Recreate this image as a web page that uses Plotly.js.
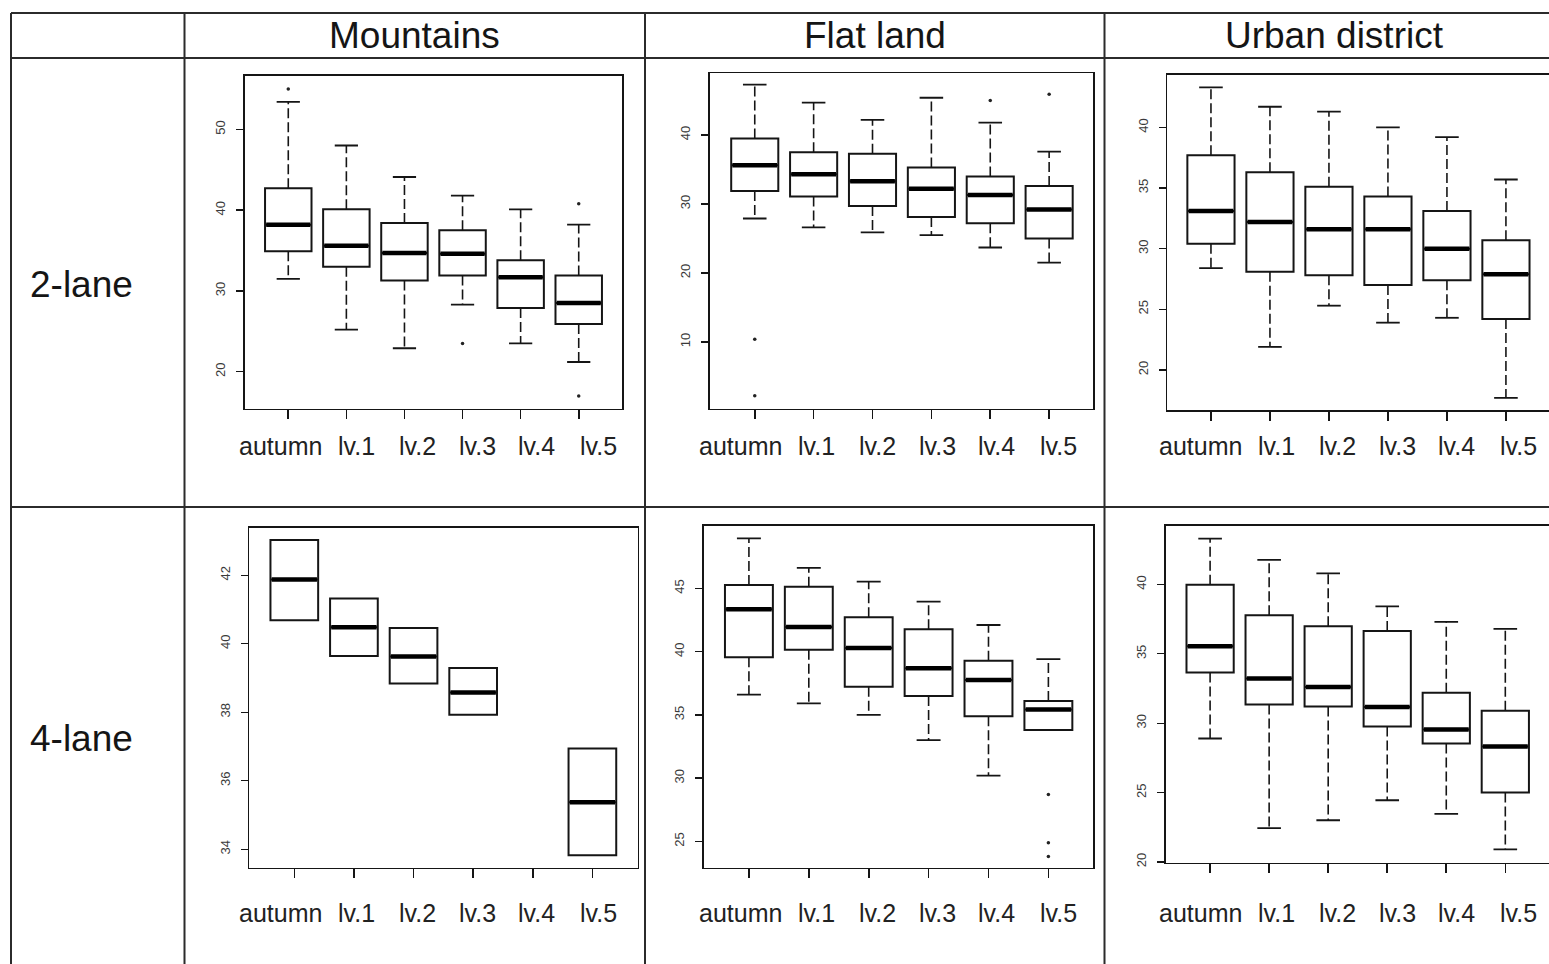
<!DOCTYPE html>
<html>
<head>
<meta charset="utf-8">
<script src="https://cdn.plot.ly/plotly-3.0.1.min.js"></script>
<style>
  html, body { margin: 0; padding: 0; background: #ffffff; }
  #chart { width: 1549px; height: 964px; }
</style>
</head>
<body>
<div id="chart"></div>
<script>
// ---------- categories / labels ----------
const categories = ['autumn', 'lv.1', 'lv.2', 'lv.3', 'lv.4', 'lv.5'];
const terrains = ['Mountains', 'Flat land', 'Urban district'];
const roadTypes = ['2-lane', '4-lane'];

// ---------- Mountains, 2-lane ----------
const m2_lo  = [31.5, 25.2, 22.9, 28.3, 23.5, 21.2];
const m2_q1  = [34.9, 33.0, 31.3, 31.9, 27.9, 25.9];
const m2_med = [38.2, 35.6, 34.7, 34.6, 31.7, 28.5];
const m2_q3  = [42.7, 40.1, 38.4, 37.5, 33.8, 31.9];
const m2_hi  = [53.4, 48.0, 44.1, 41.8, 40.1, 38.2];
const m2_outCat = ['autumn', 'lv.3', 'lv.5', 'lv.5'];
const m2_outVal = [55.0, 23.5, 40.8, 17.0];

// ---------- Flat land, 2-lane ----------
const f2_lo  = [27.9, 26.6, 25.9, 25.5, 23.7, 21.5];
const f2_q1  = [31.9, 31.1, 29.7, 28.1, 27.2, 25.0];
const f2_med = [35.6, 34.3, 33.3, 32.2, 31.3, 29.2];
const f2_q3  = [39.5, 37.5, 37.3, 35.3, 34.0, 32.6];
const f2_hi  = [47.3, 44.7, 42.2, 45.4, 41.8, 37.6];
const f2_outCat = ['autumn', 'autumn', 'lv.4', 'lv.5'];
const f2_outVal = [10.4, 2.2, 45.0, 45.9];

// ---------- Urban district, 2-lane ----------
const u2_lo  = [28.4, 21.9, 25.3, 23.9, 24.3, 17.7];
const u2_q1  = [30.4, 28.1, 27.8, 27.0, 27.4, 24.2];
const u2_med = [33.1, 32.2, 31.6, 31.6, 30.0, 27.9];
const u2_q3  = [37.7, 36.3, 35.1, 34.3, 33.1, 30.7];
const u2_hi  = [43.3, 41.7, 41.3, 40.0, 39.2, 35.7];
const u2_outCat = [];
const u2_outVal = [];

// ---------- Mountains, 4-lane (no whiskers, lv.4 empty) ----------
const m4_lo  = [40.69, 39.64, 38.84, 37.93, null, 33.82];
const m4_q1  = [40.69, 39.64, 38.84, 37.93, null, 33.82];
const m4_med = [41.88, 40.48, 39.63, 38.58, null, 35.37];
const m4_q3  = [43.03, 41.32, 40.46, 39.29, null, 36.94];
const m4_hi  = [43.03, 41.32, 40.46, 39.29, null, 36.94];
const m4_outCat = [];
const m4_outVal = [];

// ---------- Flat land, 4-lane ----------
const f4_lo  = [36.6, 35.9, 35.0, 33.0, 30.2, 33.8];
const f4_q1  = [39.55, 40.15, 37.23, 36.49, 34.88, 33.8];
const f4_med = [43.34, 41.94, 40.28, 38.68, 37.75, 35.43];
const f4_q3  = [45.26, 45.13, 42.71, 41.76, 39.28, 36.09];
const f4_hi  = [48.95, 46.61, 45.53, 43.95, 42.1, 39.41];
const f4_outCat = ['lv.5', 'lv.5', 'lv.5'];
const f4_outVal = [28.7, 24.9, 23.8];

// ---------- Urban district, 4-lane ----------
const u4_lo  = [28.9, 22.44, 23.01, 24.45, 23.47, 20.91];
const u4_q1  = [33.66, 31.34, 31.2, 29.76, 28.54, 25.0];
const u4_med = [35.55, 33.23, 32.61, 31.17, 29.55, 28.33];
const u4_q3  = [39.98, 37.78, 36.99, 36.65, 32.2, 30.89];
const u4_hi  = [43.3, 41.77, 40.79, 38.42, 37.3, 36.79];
const u4_outCat = [];
const u4_outVal = [];

// ---------- y-axis ticks per panel ----------
const m2_yticks = [20, 30, 40, 50];
const f2_yticks = [10, 20, 30, 40];
const u2_yticks = [20, 25, 30, 35, 40];
const m4_yticks = [34, 36, 38, 40, 42];
const f4_yticks = [25, 30, 35, 40, 45];
const u4_yticks = [20, 25, 30, 35, 40];

// ---------- layout (pixels) ----------
const W = 1549, H = 964;
const px = v => v / W;
const py = v => 1 - v / H;
const INK = '#151515';
const FONT = 'Liberation Sans, Arial, sans-serif';

const panels = [
  {lo:m2_lo,q1:m2_q1,med:m2_med,q3:m2_q3,hi:m2_hi,oc:m2_outCat,ov:m2_outVal,yt:m2_yticks,
   xpx:[245,622], ypx:[75.7,408.7], yr:[15.42,56.64], xr:[-0.745,5.745], open:false},
  {lo:f2_lo,q1:f2_q1,med:f2_med,q3:f2_q3,hi:f2_hi,oc:f2_outCat,ov:f2_outVal,yt:f2_yticks,
   xpx:[710,1093.3], ypx:[73.3,408.7], yr:[0.34,48.94], xr:[-0.76,5.75], open:false},
  {lo:u2_lo,q1:u2_q1,med:u2_med,q3:u2_q3,hi:u2_hi,oc:u2_outCat,ov:u2_outVal,yt:u2_yticks,
   xpx:[1167.3,1549], ypx:[74.7,410], yr:[16.70,44.34], xr:[-0.74,5.73], open:true},
  {lo:m4_lo,q1:m4_q1,med:m4_med,q3:m4_q3,hi:m4_hi,oc:m4_outCat,ov:m4_outVal,yt:m4_yticks,
   xpx:[249.3,637.7], ypx:[527.7,867.7], yr:[33.46,43.39], xr:[-0.755,5.76], open:false},
  {lo:f4_lo,q1:f4_q1,med:f4_med,q3:f4_q3,hi:f4_hi,oc:f4_outCat,ov:f4_outVal,yt:f4_yticks,
   xpx:[704,1093.3], ypx:[525.7,867.7], yr:[22.92,49.95], xr:[-0.75,5.75], open:false},
  {lo:u4_lo,q1:u4_q1,med:u4_med,q3:u4_q3,hi:u4_hi,oc:u4_outCat,ov:u4_outVal,yt:u4_yticks,
   xpx:[1166,1549], ypx:[525.7,862.7], yr:[19.95,44.23], xr:[-0.747,5.74], open:true}
];

const BOXHALF = 0.4, STAPLEHALF = 0.2;
const traces = [];
const layout = {
  width: W, height: H,
  margin: {l: 0, r: 0, t: 0, b: 0},
  paper_bgcolor: '#ffffff', plot_bgcolor: '#ffffff',
  showlegend: false,
  hovermode: false,
  font: {family: FONT, color: INK},
  shapes: [], annotations: []
};

panels.forEach((p, k) => {
  const n = k + 1;
  const xa = n === 1 ? 'x' : 'x' + n;
  const ya = n === 1 ? 'y' : 'y' + n;
  const idx = [];
  categories.forEach((c, i) => { if (p.med[i] !== null) idx.push(i); });

  // boxes
  traces.push({
    type: 'box', xaxis: xa, yaxis: ya,
    x: idx,
    q1: idx.map(i => p.q1[i]),
    median: idx.map(i => p.med[i]),
    q3: idx.map(i => p.q3[i]),
    lowerfence: idx.map(i => p.q1[i]),
    upperfence: idx.map(i => p.q3[i]),
    width: 2 * BOXHALF, whiskerwidth: 0,
    line: {color: INK, width: 2},
    fillcolor: 'rgba(255,255,255,0)',
    boxpoints: false, hoverinfo: 'skip'
  });

  // dashed whiskers
  const wx = [], wy = [];
  idx.forEach(i => {
    if (p.hi[i] > p.q3[i]) { wx.push(i, i, null); wy.push(p.q3[i], p.hi[i], null); }
    if (p.lo[i] < p.q1[i]) { wx.push(i, i, null); wy.push(p.q1[i], p.lo[i], null); }
  });
  traces.push({type: 'scatter', mode: 'lines', xaxis: xa, yaxis: ya, x: wx, y: wy,
    line: {color: INK, width: 1.6, dash: '10px,4px'}, hoverinfo: 'skip'});

  // staples
  const sx = [], sy = [];
  idx.forEach(i => {
    if (p.hi[i] > p.q3[i]) { sx.push(i - STAPLEHALF, i + STAPLEHALF, null); sy.push(p.hi[i], p.hi[i], null); }
    if (p.lo[i] < p.q1[i]) { sx.push(i - STAPLEHALF, i + STAPLEHALF, null); sy.push(p.lo[i], p.lo[i], null); }
  });
  traces.push({type: 'scatter', mode: 'lines', xaxis: xa, yaxis: ya, x: sx, y: sy,
    line: {color: INK, width: 1.8}, hoverinfo: 'skip'});

  // thick medians
  const mx = [], my = [];
  idx.forEach(i => { mx.push(i - BOXHALF + 0.02, i + BOXHALF - 0.02, null); my.push(p.med[i], p.med[i], null); });
  traces.push({type: 'scatter', mode: 'lines', xaxis: xa, yaxis: ya, x: mx, y: my,
    line: {color: '#000', width: 4.5}, hoverinfo: 'skip'});

  // outliers
  if (p.oc.length) {
    traces.push({type: 'scatter', mode: 'markers', xaxis: xa, yaxis: ya,
      x: p.oc.map(c => categories.indexOf(c)), y: p.ov,
      marker: {color: '#222', size: 3.5, symbol: 'circle'}, hoverinfo: 'skip'});
  }

  const xkey = n === 1 ? 'xaxis' : 'xaxis' + n;
  const ykey = n === 1 ? 'yaxis' : 'yaxis' + n;
  layout[xkey] = {
    anchor: ya, domain: [px(p.xpx[0]), px(p.xpx[1])],
    type: 'linear', range: p.xr, fixedrange: true,
    showgrid: false, zeroline: false,
    showline: true, linecolor: INK, linewidth: 1.6, mirror: true,
    tickmode: 'array', tickvals: categories.map((c, i) => i),
    ticks: 'outside', ticklen: 9, tickwidth: 1.6, tickcolor: INK,
    showticklabels: false
  };
  layout[ykey] = {
    anchor: xa, domain: [py(p.ypx[1]), py(p.ypx[0])],
    type: 'linear', range: p.yr, fixedrange: true,
    showgrid: false, zeroline: false,
    showline: true, linecolor: INK, linewidth: 1.6, mirror: !p.open,
    tickmode: 'array', tickvals: p.yt,
    ticks: 'outside', ticklen: 7, tickwidth: 1.3, tickcolor: INK,
    tickangle: -90, ticklabelstandoff: 6,
    tickfont: {family: FONT, size: 13, color: '#3a3a3a'}
  };
});

// ---------- table grid ----------
const gridColor = '#2b2b2b';
const hLines = [13, 58, 507];
const vLines = [11, 184.5, 645, 1104.5];
hLines.forEach(y => layout.shapes.push({type: 'line', xref: 'paper', yref: 'paper',
  x0: px(11), x1: 1, y0: py(y), y1: py(y), line: {color: gridColor, width: 2}}));
vLines.forEach(x => layout.shapes.push({type: 'line', xref: 'paper', yref: 'paper',
  x0: px(x), x1: px(x), y0: py(13), y1: 0, line: {color: gridColor, width: 2}}));

// ---------- header and row labels ----------
const headerX = [414.75, 874.75, 1334.5];
terrains.forEach((t, i) => layout.annotations.push({
  xref: 'paper', yref: 'paper', x: px(headerX[i]), y: py(35.5), xanchor: 'center', yanchor: 'middle',
  text: t, showarrow: false, font: {family: FONT, size: 37, color: INK}
}));
const rowY = [284.5, 738.5];
roadTypes.forEach((t, i) => layout.annotations.push({
  xref: 'paper', yref: 'paper', x: px(28), y: py(rowY[i]), xanchor: 'left', yanchor: 'middle',
  text: t, showarrow: false, font: {family: FONT, size: 37, color: INK}
}));

// ---------- category labels under each cell ----------
const colStart = [185, 645, 1105];
const labelOffset = [95.5, 171, 232, 292.5, 351.5, 413];
const labelRowY = [446, 912.5];
labelRowY.forEach(yy => colStart.forEach(cs => categories.forEach((c, i) => layout.annotations.push({
  xref: 'paper', yref: 'paper', x: px(cs + labelOffset[i]), y: py(yy), xanchor: 'center', yanchor: 'middle',
  text: c, showarrow: false, font: {family: FONT, size: 25, color: '#222'}
}))));

Plotly.newPlot('chart', traces, layout, {staticPlot: true, displayModeBar: false});
</script>
</body>
</html>
